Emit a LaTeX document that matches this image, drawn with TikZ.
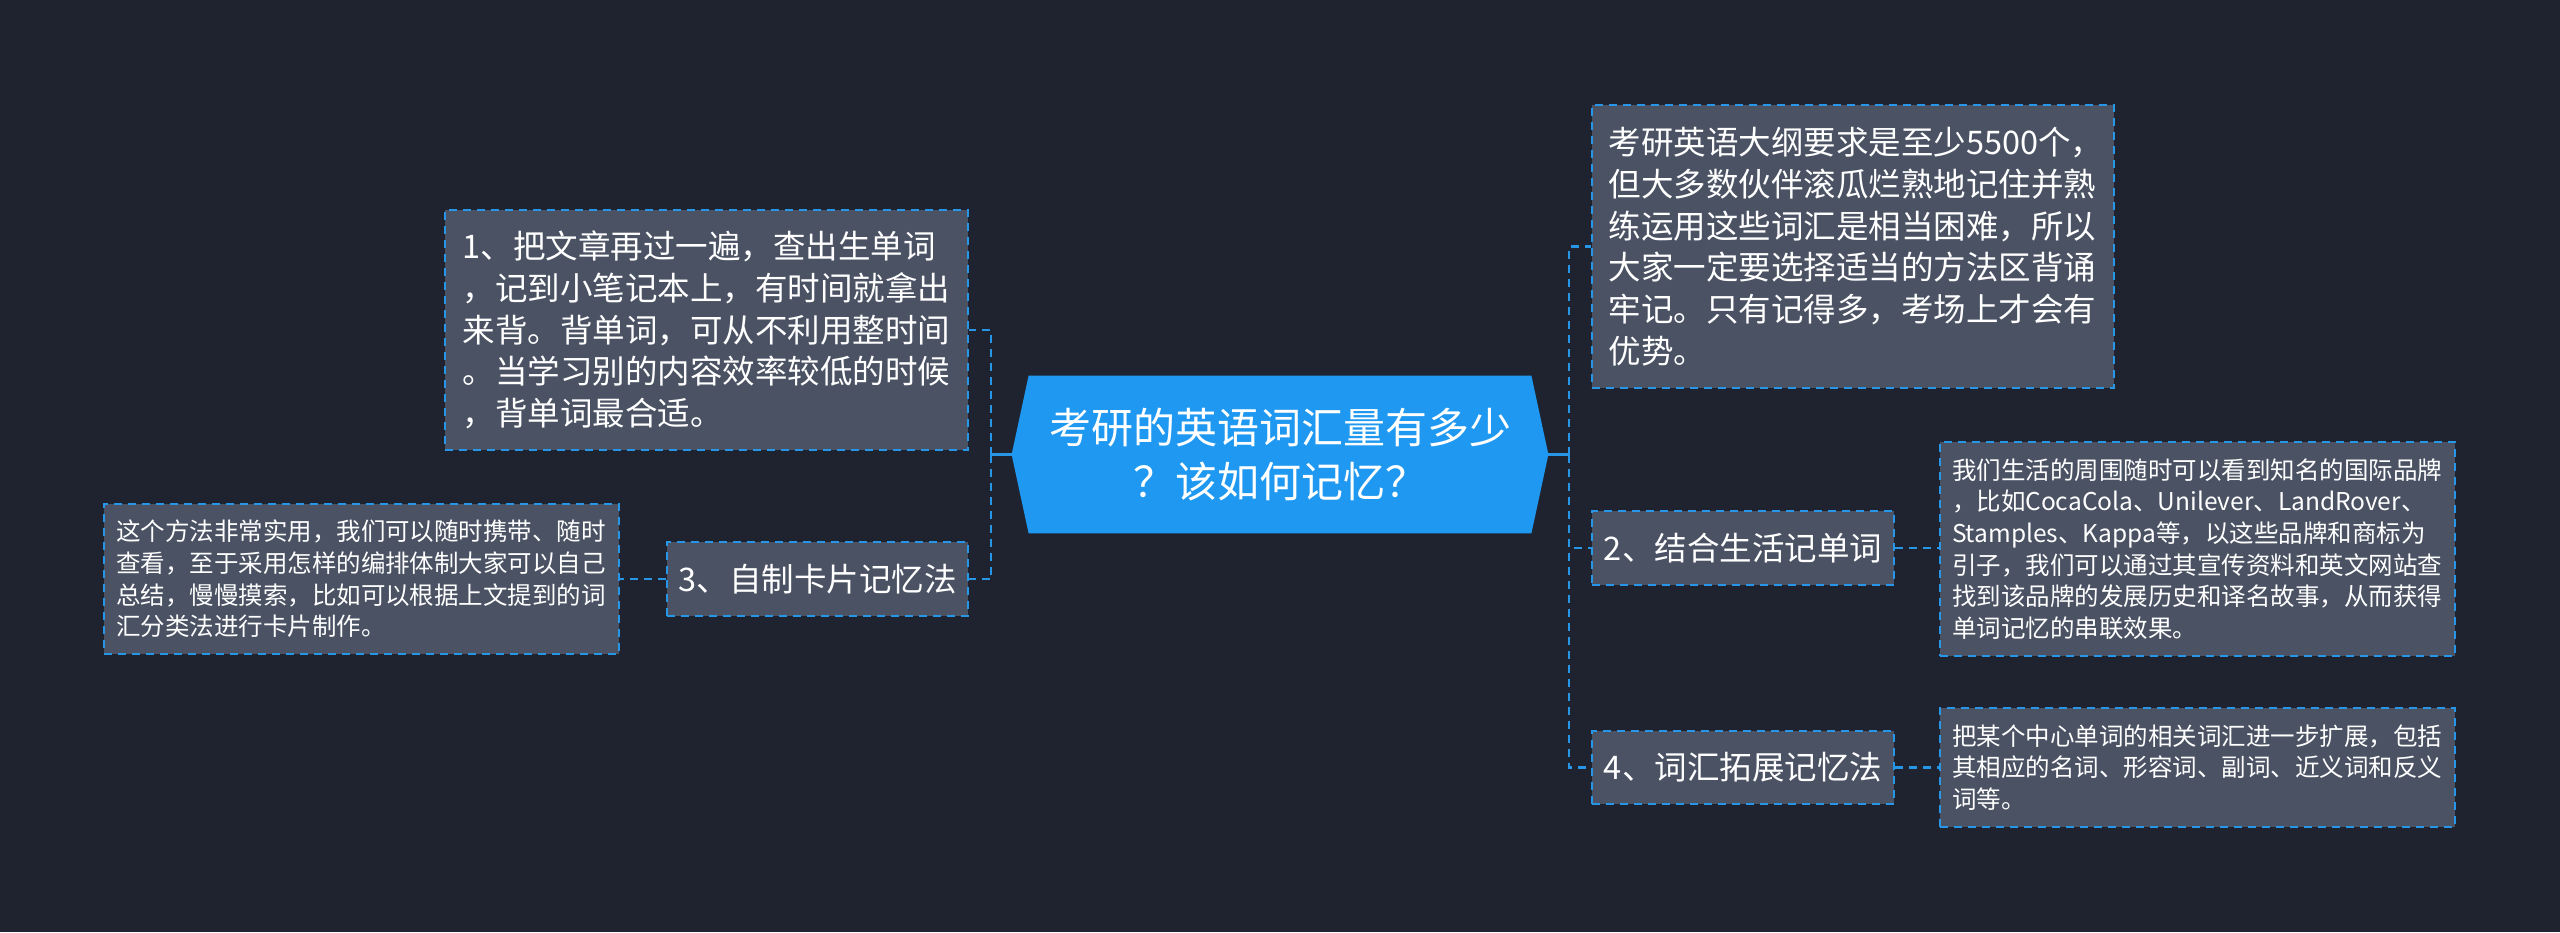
\documentclass[tikz,border=0pt]{standalone}
\usepackage{fontspec}
\setmainfont{Noto Sans CJK SC}
\definecolor{bgc}{RGB}{31,35,48}
\definecolor{boxc}{RGB}{74,82,99}
\definecolor{lineb}{RGB}{40,150,230}
\definecolor{cblue}{RGB}{30,152,240}
\pgfdeclarelayer{bg}
\pgfsetlayers{bg,main}
\tikzset{
  box/.style={fill=boxc, draw=lineb, line width=1.1pt, dash pattern=on 4pt off 3pt,
    text=white, align=left, inner ysep=0pt, anchor=center},
  bigtext/.style={font=\fontsize{16.25}{20.85}\selectfont},
  smalltext/.style={font=\fontsize{12.25}{15.8}\selectfont},
  conn/.style={draw=lineb, line width=1.1pt},
  dconn/.style={draw=lineb, line width=1.1pt, dash pattern=on 4pt off 3pt},
}
\begin{document}
\begin{tikzpicture}[x=0.5pt,y=-0.5pt]
\begin{pgfonlayer}{bg}
\fill[bgc] (0,0) rectangle (2560,932);
\end{pgfonlayer}
\useasboundingbox (0,0) rectangle (2560,932);

% center
\node[text=white, align=center, inner sep=0pt, minimum width=268pt, minimum height=78.5pt,
  font=\fontsize{21}{26.7}\selectfont] (c) at (1280,454.5) {考研的英语词汇量有多少\\？该如何记忆？};
\begin{pgfonlayer}{bg}
\fill[cblue] (c.west) -- ([xshift=8.5pt]c.north west) -- ([xshift=-8.5pt]c.north east) -- (c.east)
  -- ([xshift=-8.5pt]c.south east) -- ([xshift=8.5pt]c.south west) -- cycle;
\end{pgfonlayer}

% left side
\node[box, bigtext, inner xsep=8.75pt, text width=244pt, minimum height=120pt] (n1) at (706.5,330)
 {1、把文章再过一遍，查出生单词\\，记到小笔记本上，有时间就拿出\\来背。背单词，可从不利用整时间\\。当学习别的内容效率较低的时候\\，背单词最合适。};
\node[box, bigtext, align=center, inner xsep=0pt, minimum width=150.5pt, minimum height=37pt] (n3) at (817.5,579)
 {3、自制卡片记忆法};
\node[box, smalltext, inner xsep=6pt, text width=245.5pt, minimum height=75pt] (d3) at (361.5,579)
 {这个方法非常实用，我们可以随时携带、随时\\查看，至于采用怎样的编排体制大家可以自己\\总结，慢慢摸索，比如可以根据上文提到的词\\汇分类法进行卡片制作。};

% right side
\node[box, bigtext, inner xsep=8.25pt, text width=244.5pt, minimum height=141.5pt] (t) at (1853,246.5)
 {考研英语大纲要求是至少5500个，\\但大多数伙伴滚瓜烂熟地记住并熟\\练运用这些词汇是相当困难，所以\\大家一定要选择适当的方法区背诵\\牢记。只有记得多，考场上才会有\\优势。};
\node[box, bigtext, align=center, inner xsep=0pt, minimum width=151pt, minimum height=37pt] (n2) at (1743,548)
 {2、结合生活记单词};
\node[box, bigtext, align=center, inner xsep=0pt, minimum width=151pt, minimum height=36.5pt] (n4) at (1743,767.5)
 {4、词汇拓展记忆法};
\node[box, smalltext, inner xsep=6pt, text width=245.5pt, minimum height=107pt] (d2) at (2197.5,549)
 {我们生活的周围随时可以看到知名的国际品牌\\，比如CocaCola、Unilever、LandRover、\\Stamples、Kappa等，以这些品牌和商标为\\引子，我们可以通过其宣传资料和英文网站查\\找到该品牌的发展历史和译名故事，从而获得\\单词记忆的串联效果。};
\node[box, smalltext, inner xsep=6pt, text width=245.5pt, minimum height=59.5pt] (d4) at (2197.5,767.5)
 {把某个中心单词的相关词汇进一步扩展，包括\\其相应的名词、形容词、副词、近义词和反义\\词等。};

% connectors
\coordinate (lb) at (991,454.5);
\coordinate (rb) at (1569,454.5);
\draw[conn] (c.west) -- (lb);
\draw[dconn] (lb) |- (n1.east);
\draw[dconn] (lb) |- (n3.east);
\draw[conn] (c.east) -- (rb);
\draw[dconn] (rb) |- (t.west);
\draw[dconn] (rb) |- (n2.west);
\draw[dconn] (rb) |- (n4.west);
\draw[dconn] (n3.west) -- (d3.east);
\draw[dconn] (n2.east) -- (n2.east -| d2.west);
\draw[dconn] (n4.east) -- (d4.west);
\end{tikzpicture}
\end{document}
